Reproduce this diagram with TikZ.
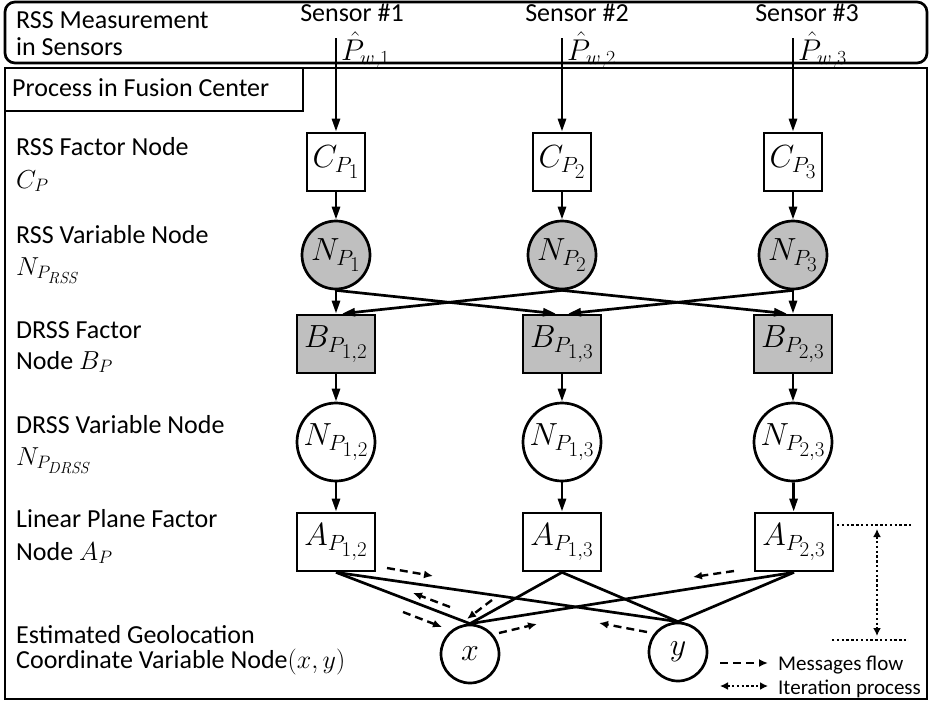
\RequirePackage{fix-cm}
\documentclass[tikz,border=0pt]{standalone}
\usepackage{amsmath}
\usepackage[no-math]{fontspec}
\setmainfont{Carlito}
\usetikzlibrary{arrows.meta}
\DeclareMathSizes{32}{32}{22}{21}
\DeclareMathSizes{30}{30}{20}{18}
\DeclareMathSizes{26}{26}{18}{16}
\newcommand{\grand}{\fontsize{26}{31}\selectfont}
\newcommand{\maths}{\fontsize{32}{36}\selectfont}
\newcommand{\haut}{\fontsize{30}{34}\selectfont}
\newcommand{\petit}{\fontsize{21}{25}\selectfont}
\newcommand{\etiq}[3]{\node[lab] (#1) at (16,#2) {#3}}
\tikzset{
	bord/.style={line width=2.7pt},
	fac/.style={draw,bord,minimum width=58pt,minimum height=58pt,inner sep=0pt,font=\maths},
	facw/.style={fac,minimum width=78pt},
	facgr/.style={facw,fill=gray!50},
	var/.style={draw,bord,circle,inner sep=0pt,font=\maths},
	fl/.style={bord,-{Triangle[length=13pt,width=8pt]}},
	msg/.style={line width=2.4pt,dash pattern=on 8pt off 5pt,-{Latex[length=9pt,width=8pt]}},
	dots/.style={line width=2.4pt,dash pattern=on 2.4pt off 2.4pt},
	iter/.style={dots,{Latex[length=8pt,width=8pt]}-{Latex[length=8pt,width=8pt]}},
	lab/.style={anchor=base west,inner sep=0pt,font=\grand},
}

\begin{document}
\begin{tikzpicture}[x=1pt,y=-1pt]
	\useasboundingbox (0,0) rectangle (930,704);
%Borders
	\draw[bord,rounded corners=10pt] (5,2) rectangle (927,63);
	\draw[bord] (5,68) rectangle (927,699);
	\draw[bord] (5,68) rectangle (303,111);
	\node[lab] (fc) at (12,96) {Process in Fusion Center};
	\node[lab] (rm1) at (16,28) {RSS Measurement};
	\node[lab] (rm2) at (16,55) {in Sensors};
%Sensors
	\node[lab,anchor=base,text depth=0pt] (t1) at (352,21) {Sensor \#1};
	\node[lab,anchor=base,text depth=0pt] (t2) at (577,21) {Sensor \#2};
	\node[lab,anchor=base,text depth=0pt] (t3) at (807,21) {Sensor \#3};
	\coordinate (s1) at (336,38);
	\coordinate (s2) at (562,38);
	\coordinate (s3) at (793,38);
	\node[lab,font=\haut] (p1) at (341,60) {$\hat{P}_{w,1}$};
	\node[lab,font=\haut] (p2) at (567,60) {$\hat{P}_{w,2}$};
	\node[lab,font=\haut] (p3) at (798,60) {$\hat{P}_{w,3}$};
%Left labels
	\etiq{la1}{155}{RSS Factor Node};
	\etiq{la2}{188}{$C_P$};
	\etiq{lb1}{243}{RSS Variable Node};
	\etiq{lb2}{275}{$N_{P_{\mathit{RSS}}}$};
	\etiq{lc1}{338}{DRSS Factor};
	\etiq{lc2}{369}{Node $B_P$};
	\etiq{ld1}{433}{DRSS Variable Node};
	\etiq{ld2}{465}{$N_{P_{\mathit{DRSS}}}$};
	\etiq{le1}{527}{Linear Plane Factor};
	\etiq{le2}{560}{Node $A_P$};
	\etiq{lf1}{643}{Estimated Geolocation};
	\etiq{lf2}{668}{Coordinate Variable Node$(x,y)$};
%RSS factor nodes
	\node[fac] (c1) at (336,162) {$C_{P_1}$};
	\node[fac] (c2) at (562,162) {$C_{P_2}$};
	\node[fac] (c3) at (793,162) {$C_{P_3}$};
%RSS variable nodes
	\node[var,fill=gray!50,minimum size=68pt] (n1) at (336,255) {$N_{P_1}$};
	\node[var,fill=gray!50,minimum size=68pt] (n2) at (562,255) {$N_{P_2}$};
	\node[var,fill=gray!50,minimum size=68pt] (n3) at (793,255) {$N_{P_3}$};
%DRSS factor nodes
	\node[facgr] (b12) at (336,344) {$B_{P_{1,2}}$};
	\node[facgr] (b13) at (562,344) {$B_{P_{1,3}}$};
	\node[facgr] (b23) at (793,344) {$B_{P_{2,3}}$};
%DRSS variable nodes
	\node[var,minimum size=78pt] (d12) at (336,442) {$N_{P_{1,2}}$};
	\node[var,minimum size=78pt] (d13) at (562,442) {$N_{P_{1,3}}$};
	\node[var,minimum size=78pt] (d23) at (793,442) {$N_{P_{2,3}}$};
%Linear plane factor nodes
	\node[facw] (a12) at (336,542) {$A_{P_{1,2}}$};
	\node[facw] (a13) at (562,542) {$A_{P_{1,3}}$};
	\node[facw] (a23) at (794,542) {$A_{P_{2,3}}$};
%Coordinates
	\node[var,minimum size=58pt] (x) at (470,654) {$x$};
	\node[var,minimum size=58pt] (y) at (678,652) {$y$};
%Arrows
	\draw[fl] (s1) -- (c1);
	\draw[fl] (s2) -- (c2);
	\draw[fl] (s3) -- (c3);
	\draw[fl] (c1) -- (n1);
	\draw[fl] (c2) -- (n2);
	\draw[fl] (c3) -- (n3);
	\draw[fl] (n1.south) -- (b12.north);
	\draw[fl] (n1.south) -- ([xshift=-6pt]b13.north);
	\draw[fl] (n2.south) -- ([xshift=6pt]b12.north);
	\draw[fl] (n2.south) -- ([xshift=-6pt]b23.north);
	\draw[fl] (n3.south) -- ([xshift=6pt]b13.north);
	\draw[fl] (n3.south) -- (b23.north);
	\draw[fl] (b12) -- (d12);
	\draw[fl] (b13) -- (d13);
	\draw[fl] (b23) -- (d23);
	\draw[fl] (d12) -- (a12);
	\draw[fl] (d13) -- (a13);
	\draw[fl] (d23) -- (a23);
%Links to (x,y)
	\draw[bord] (a12.south) -- (x.north);
	\draw[bord] (a12.south) -- (y.north);
	\draw[bord] (a13.south) -- (x.north);
	\draw[bord] (a13.south) -- (y.north);
	\draw[bord] (a23.south) -- (x.north);
	\draw[bord] (a23.south) -- (y.north);
%Messages
	\draw[msg] (387,568) -- (433,576);
	\draw[msg] (450,607) -- (413,593);
	\draw[msg] (403,612) -- (442,627);
	\draw[msg] (492,600) -- (467,619);
	\draw[msg] (499,633) -- (537,624);
	\draw[msg] (647,632) -- (599,623);
	\draw[msg] (734,571) -- (693,577);
%Iteration
	\draw[dots] (837,525) -- (913,525);
	\draw[dots] (832,640) -- (908,640);
	\draw[iter] (877,529) -- (877,636);
%Legend
	\draw[msg] (720,663) -- (768,663);
	\node[lab,font=\petit] (lg1) at (778,670) {Messages flow};
	\draw[iter] (720,686) -- (768,686);
	\node[lab,font=\petit] (lg2) at (778,694) {Iteration process};
\end{tikzpicture}
\end{document}
